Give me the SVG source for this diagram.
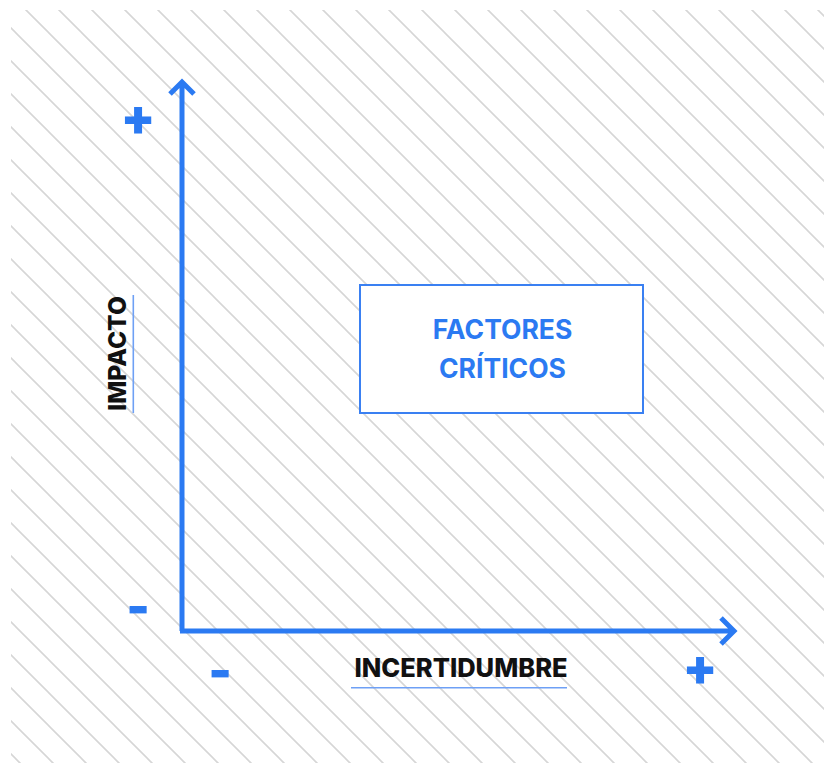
<svg xmlns="http://www.w3.org/2000/svg" width="824" height="763" viewBox="0 0 824 763">
<defs>
<pattern id="hatch" patternUnits="userSpaceOnUse" x="16" y="0" width="33" height="33">
<path d="M0,0 L33,33 M-5,28 L5,38 M28,-5 L38,5" stroke="#d6d6d6" stroke-width="1.6" fill="none"/>
</pattern>
<style>
.axis{stroke:#2b7af2;stroke-width:5;fill:none;stroke-linejoin:miter}
.sign{font-family:Inter,"Liberation Sans",sans-serif;font-weight:900;fill:#2b7af2;text-anchor:middle;font-size:50px}
.label{font-family:Inter,"Liberation Sans",sans-serif;font-weight:800;fill:#111;text-anchor:middle}
.uline{stroke:#6ea0f5;stroke-width:1.6}
.box{fill:#fff;stroke:#3a80f2;stroke-width:2}
.boxtext{font-family:Inter,"Liberation Sans",sans-serif;font-weight:700;fill:#2b7af2;text-anchor:middle;font-size:26.5px}
</style>
</defs>
<rect x="0" y="0" width="824" height="763" fill="#fff"/>
<rect x="11" y="10" width="813" height="753" fill="url(#hatch)"/>
<g id="connectors">
<path class="axis" d="M182,631 L182,82 M170,94 L182,82 L194,94"/>
<path class="axis" d="M180,631 L734,631 M721,618 L734,631 L721,644"/>
</g>
<g id="y-axis-label">
<text class="label" font-size="24.5" transform="translate(125.5,353.5) rotate(-90)">IMPACTO</text>
<line class="uline" x1="133.3" y1="295" x2="133.3" y2="413"/>
</g>
<g id="x-axis-label">
<text class="label" font-size="25.5" x="461" y="677.3">INCERTIDUMBRE</text>
<line class="uline" x1="351" y1="687.7" x2="567" y2="687.7"/>
</g>
<g id="y-plus"><text class="sign" x="138" y="135">+</text></g>
<g id="y-minus"><text class="sign" x="138" y="624">-</text></g>
<g id="x-minus"><text class="sign" x="220" y="688">-</text></g>
<g id="x-plus"><text class="sign" x="700" y="685">+</text></g>
<g id="factores-criticos">
<rect class="box" x="360" y="285" width="283" height="128"/>
<text class="boxtext" x="502.5" y="339">FACTORES</text>
<text class="boxtext" x="502.5" y="378">CRÍTICOS</text>
</g>
</svg>
